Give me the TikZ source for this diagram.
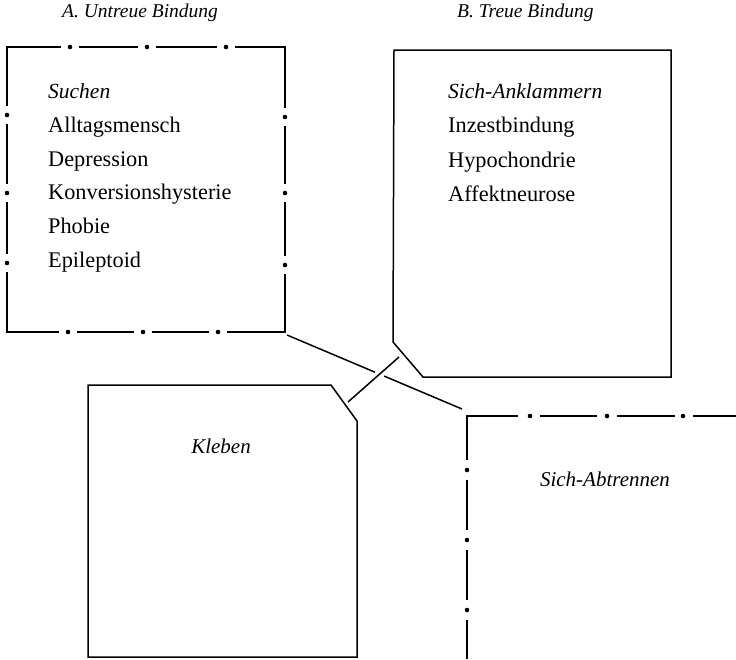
\documentclass[tikz,border=0pt]{standalone}
\usepackage{fontspec}
\setmainfont{Liberation Serif}
\begin{document}
\begin{tikzpicture}[x=1pt,y=-1pt,
  rule/.style={line width=1.5pt, line join=miter},
  dotmark/.style={fill=black},
  entry/.style={anchor=base west, inner sep=0pt, font=\fontsize{22.3}{26}\selectfont},
  term/.style={anchor=base west, inner sep=0pt, font=\fontsize{21.5}{25}\selectfont\itshape},
  cterm/.style={anchor=base, inner sep=0pt, font=\fontsize{21}{25}\selectfont\itshape},
  head/.style={anchor=base west, inner sep=0pt, font=\fontsize{19.5}{23}\selectfont\itshape}]
\useasboundingbox (0,0) rectangle (736,659);

% column headings
\node[head] (hA) at (62,17) {A. Untreue Bindung};
\node[head] (hB) at (457,17) {B. Treue Bindung};

% frame A: dash-dot outline
\draw[rule] (7,106) -- (7,47) -- (61,47);
\draw[rule] (235,47) -- (285,47) -- (285,108);
\draw[rule] (285,274) -- (285,332) -- (227,332);
\draw[rule] (59,332) -- (7,332) -- (7,272);
\draw[rule] (79,47) -- (138,47) (156,47) -- (217,47)
            (285,126) -- (285,184) (285,202) -- (285,256)
            (77,332) -- (134,332) (152,332) -- (209,332)
            (7,124) -- (7,184) (7,202) -- (7,254);
\foreach \p in {(70,47),(147,47),(226,47),(285,117),(285,193),(285,265),
                (68,332),(143,332),(218,332),(7,115),(7,193),(7,263)}
  \fill[dotmark] \p circle (2.3);

% frame B: solid outline with cut lower-left corner
\draw[rule] (394,50) -- (671,50) -- (671,377) -- (423,377) -- (393,342) -- cycle;

% frame C: solid outline with cut upper-right corner
\draw[rule] (88,385) -- (331,385) -- (357,421) -- (357,657) -- (88,657) -- cycle;

% frame D: dash-dot corner opening to the lower right
\draw[rule] (467,460) -- (467,416) -- (518,416);
\draw[rule] (540,416) -- (597,416) (617,416) -- (675,416) (693,416) -- (736,416)
            (467,480) -- (467,530) (467,550) -- (467,600) (467,620) -- (467,659);
\foreach \p in {(530,416),(607,416),(683,416),(467,470),(467,540),(467,610)}
  \fill[dotmark] \p circle (2.3);

% entries of frame A
\node[term]  (a0) at (48,98)  {Suchen};
\node[entry] (a1) at (48,132) {Alltagsmensch};
\node[entry] (a2) at (48,166) {Depression};
\node[entry] (a3) at (48,199) {Konversionshysterie};
\node[entry] (a4) at (48,233) {Phobie};
\node[entry] (a5) at (48,267) {Epileptoid};

% entries of frame B
\node[term]  (b0) at (448,98)  {Sich-Anklammern};
\node[entry] (b1) at (448,132) {Inzestbindung};
\node[entry] (b2) at (448,167) {Hypochondrie};
\node[entry] (b3) at (448,201) {Affektneurose};

% labels of frames C and D
\node[cterm] (c0) at (221,453) {Kleben};
\node[cterm] (d0) at (605,486) {Sich-Abtrennen};

% crossing links between the frames
\coordinate (A-link) at (287,335);
\coordinate (D-link) at (462,409);
\coordinate (B-link) at (399,357);
\coordinate (C-link) at (348,402);
\coordinate (X) at (intersection of A-link--D-link and B-link--C-link);
\draw[rule] (B-link) -- (C-link);
\draw[rule, shorten >=5pt] (A-link) -- (X);
\draw[rule, shorten <=5pt] (X) -- (D-link);
\end{tikzpicture}
\end{document}
